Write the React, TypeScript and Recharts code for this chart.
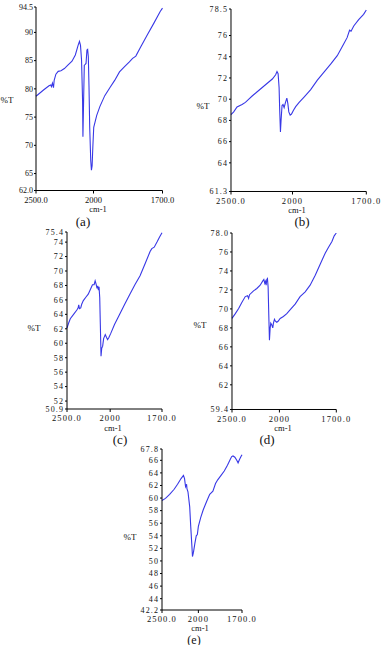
import React from "react";
import { LineChart, Line, XAxis, YAxis } from "recharts";

// wavenumber (cm-1) and %T
const aWave = [2500, 2432, 2387, 2372, 2366, 2357, 2348, 2342, 2327, 2307, 2283, 2253, 2223, 2187, 2158, 2134, 2122, 2113, 2104, 2095, 2092, 2086, 2080, 2074, 2065, 2057, 2051, 2045, 2039, 2033, 2024, 2018, 2012, 2006, 1999, 1986, 1972, 1951, 1929, 1908, 1887, 1866, 1844, 1830, 1816, 1795, 1767, 1738, 1710, 1700];
const aT = [78.7, 79.85, 80.56, 80.7, 80.4, 81.0, 80.2, 81.5, 82.6, 83.1, 83.2, 83.6, 84.2, 84.9, 86.0, 87.7, 88.4, 87.7, 85.1, 77.9, 71.5, 77.9, 84.2, 84.3, 84.5, 86.9, 87.0, 85.7, 80.3, 73.2, 67.3, 65.6, 66.4, 69.6, 73.2, 75.3, 76.9, 78.8, 80.2, 81.5, 83.0, 83.9, 84.8, 85.4, 85.8, 87.4, 89.5, 91.6, 93.7, 94.3];

const bWave = [2500, 2478, 2451, 2410, 2383, 2355, 2328, 2287, 2246, 2205, 2164, 2137, 2126, 2117, 2109, 2104, 2098, 2093, 2085, 2077, 2068, 2057, 2046, 2038, 2030, 2019, 2008, 1996, 1987, 1973, 1953, 1926, 1899, 1872, 1845, 1818, 1792, 1778, 1768, 1762, 1751, 1731, 1711, 1700];
const bT = [68.54, 68.8, 69.26, 69.5, 69.7, 70.0, 70.3, 70.7, 71.1, 71.5, 71.9, 72.3, 72.6, 72.4, 71.1, 68.95, 66.9, 68.0, 69.4, 69.5, 69.2, 69.7, 70.1, 69.6, 68.8, 68.5, 68.6, 68.95, 69.3, 69.7, 70.2, 70.9, 71.8, 72.55, 73.3, 74.1, 75.2, 75.8, 76.5, 76.4, 76.9, 77.5, 78.0, 78.4];

const cWave = [2500, 2481, 2462, 2424, 2386, 2371, 2364, 2356, 2341, 2330, 2311, 2280, 2254, 2227, 2205, 2186, 2174, 2163, 2152, 2144, 2136, 2129, 2121, 2114, 2106, 2098, 2087, 2076, 2057, 2042, 2030, 2015, 1996, 1975, 1945, 1916, 1886, 1857, 1827, 1798, 1769, 1759, 1745, 1729, 1714, 1700];
const cT = [62.1, 62.8, 63.4, 64.0, 64.6, 64.9, 65.3, 64.8, 64.9, 65.4, 65.9, 66.4, 66.8, 67.5, 68.1, 68.1, 68.65, 68.2, 67.6, 67.95, 67.35, 67.8, 66.3, 62.6, 58.2, 59.3, 59.6, 60.65, 61.2, 60.8, 60.5, 60.8, 61.4, 62.6, 64.0, 65.4, 66.8, 68.1, 69.35, 71.0, 72.7, 73.1, 73.3, 74.0, 74.7, 75.3];

const dWave = [2500, 2465, 2430, 2395, 2360, 2336, 2325, 2315, 2273, 2238, 2203, 2175, 2164, 2154, 2147, 2140, 2133, 2126, 2119, 2112, 2105, 2098, 2091, 2080, 2070, 2063, 2052, 2042, 2028, 2014, 1996, 1979, 1961, 1944, 1917, 1891, 1864, 1838, 1811, 1785, 1758, 1741, 1723, 1711, 1700];
const dT = [69.0, 69.5, 70.05, 70.7, 71.3, 71.4, 71.1, 71.5, 71.9, 72.15, 72.5, 72.95, 73.1, 72.7, 72.9, 72.5, 73.1, 73.2, 72.3, 69.35, 66.7, 67.95, 68.5, 68.3, 68.0, 68.5, 68.9, 68.7, 68.6, 68.7, 69.0, 69.2, 69.5, 69.9, 70.5, 71.3, 71.8, 72.5, 73.55, 74.7, 75.9, 76.5, 77.1, 77.7, 78.0];

const eWave = [2500, 2452, 2395, 2333, 2286, 2238, 2205, 2190, 2176, 2167, 2162, 2157, 2143, 2119, 2105, 2090, 2081, 2067, 2048, 2029, 2014, 2000, 1984, 1967, 1944, 1922, 1900, 1882, 1867, 1844, 1822, 1800, 1782, 1771, 1762, 1749, 1736, 1727, 1718, 1707, 1700];
const eT = [59.6, 59.95, 60.6, 61.4, 62.2, 63.1, 63.6, 63.1, 61.8, 62.05, 62.2, 61.5, 61.0, 58.6, 55.5, 52.6, 50.7, 51.4, 52.8, 54.0, 54.2, 55.5, 56.9, 58.1, 59.4, 60.6, 61.1, 62.3, 62.9, 63.6, 64.3, 65.2, 66.1, 66.6, 66.7, 66.5, 66.0, 65.6, 66.1, 66.6, 66.9];

const aYTicks = [62, 65, 70, 75, 80, 85, 90, 94.5];
const aYLabels = ["62.0", "65", "70", "75", "80", "85", "90", "94.5"];
const bYTicks = [61.3, 64, 66, 68, 70, 72, 74, 76, 78.5];
const bYLabels = ["61.3", "64", "66", "68", "70", "72", "74", "76", "78.5"];
const cYTicks = [50.9, 52, 54, 56, 58, 60, 62, 64, 66, 68, 70, 72, 74, 75.4];
const cYLabels = ["50.9", "52", "54", "56", "58", "60", "62", "64", "66", "68", "70", "72", "74", "75.4"];
const dYTicks = [59.4, 62, 64, 66, 68, 70, 72, 74, 76, 78];
const dYLabels = ["59.4", "62", "64", "66", "68", "70", "72", "74", "76", "78.0"];
const eYTicks = [42.2, 44, 46, 48, 50, 52, 54, 56, 58, 60, 62, 64, 66, 67.8];
const eYLabels = ["42.2", "44", "46", "48", "50", "52", "54", "56", "58", "60", "62", "64", "66", "67.8"];

const xTickPos = [0, 250, 550];
const xLabels = ["2500.0", "2000", "1700.0"];

// spectrometer scale: 2500-2000 is drawn at half the scale of 2000-1700
const toX = (w: number) => (w >= 2000 ? (2500 - w) / 2 : 250 + (2000 - w));

const FONT = '"Liberation Serif", "DejaVu Serif", serif';
const BLUE = "#3838e6";

interface PanelProps {
  wave: number[];
  trans: number[];
  yTicks: number[];
  yLabels: string[];
  box: [number, number, number, number];
  spacing: number;
}

const Panel: React.FC<PanelProps> = ({ wave, trans, yTicks, yLabels, box, spacing }) => {
  const [x0, y0, x1, y1] = box;
  const data = wave.map((w, i) => ({ x: toX(w), t: trans[i] }));
  const xTick = { fontSize: 8.5, fill: "#111", fontFamily: FONT, letterSpacing: spacing };
  const yTick = { fontSize: 8, fill: "#111", fontFamily: FONT, letterSpacing: spacing };
  return (
    <div style={{ position: "absolute", left: x0 - 45, top: y0 - 8 }}>
      <LineChart
        width={x1 - x0 + 65}
        height={y1 - y0 + 28}
        data={data}
        margin={{ top: 8, right: 20, left: 0, bottom: 0 }}
      >
        <XAxis
          dataKey="x"
          type="number"
          domain={[0, 550]}
          ticks={xTickPos}
          interval={0}
          tickFormatter={(v) => xLabels[xTickPos.indexOf(v)]}
          height={20}
          tickSize={3}
          tickMargin={3}
          stroke="#000"
          tick={xTick}
        />
        <YAxis
          type="number"
          domain={[yTicks[0], yTicks[yTicks.length - 1]]}
          ticks={yTicks}
          interval={0}
          tickFormatter={(v) => yLabels[yTicks.indexOf(v)]}
          width={45}
          tickSize={2}
          tickMargin={1}
          stroke="#000"
          tick={yTick}
          allowDataOverflow
        />
        <Line
          dataKey="t"
          type="linear"
          stroke={BLUE}
          strokeWidth={1.1}
          dot={false}
          isAnimationActive={false}
        />
      </LineChart>
    </div>
  );
};

const Text: React.FC<{ x: number; y: number; size: number; children: React.ReactNode }> = ({ x, y, size, children }) => (
  <div
    style={{
      position: "absolute",
      left: x,
      top: y,
      transform: "translate(-50%, -50%)",
      fontFamily: FONT,
      fontSize: size,
      lineHeight: 1,
      color: "#111",
      whiteSpace: "nowrap",
    }}
  >
    {children}
  </div>
);

export default function App() {
  return (
    <div style={{ position: "absolute", left: 0, top: 0, width: 381, height: 645, background: "#fff" }}>
      <Panel wave={aWave} trans={aT} yTicks={aYTicks} yLabels={aYLabels} box={[36, 6.5, 162.5, 190]} spacing={0} />
      <Panel wave={bWave} trans={bT} yTicks={bYTicks} yLabels={bYLabels} box={[230.7, 8.5, 366, 191]} spacing={1.1} />
      <Panel wave={cWave} trans={cT} yTicks={cYTicks} yLabels={cYLabels} box={[66.7, 232, 161.7, 409]} spacing={1.1} />
      <Panel wave={dWave} trans={dT} yTicks={dYTicks} yLabels={dYLabels} box={[231.7, 232.5, 336, 409]} spacing={1.1} />
      <Panel wave={eWave} trans={eT} yTicks={eYTicks} yLabels={eYLabels} box={[161.7, 449, 241.7, 610]} spacing={1.1} />

      <Text x={7} y={100} size={9}>%T</Text>
      <Text x={98} y={208.5} size={8.5}>cm-1</Text>
      <Text x={83} y={221} size={13}>(a)</Text>

      <Text x={203} y={106} size={9}>%T</Text>
      <Text x={297} y={210} size={8.5}>cm-1</Text>
      <Text x={302} y={221} size={13}>(b)</Text>

      <Text x={34} y={328} size={9}>%T</Text>
      <Text x={113} y={427.5} size={8.5}>cm-1</Text>
      <Text x={120} y={439} size={13}>(c)</Text>

      <Text x={200} y={325} size={9}>%T</Text>
      <Text x={283} y={427.5} size={8.5}>cm-1</Text>
      <Text x={267} y={439} size={13}>(d)</Text>

      <Text x={130} y={537} size={9}>%T</Text>
      <Text x={200} y={628} size={8.5}>cm-1</Text>
      <Text x={194} y={639.5} size={12}>(e)</Text>
    </div>
  );
}
